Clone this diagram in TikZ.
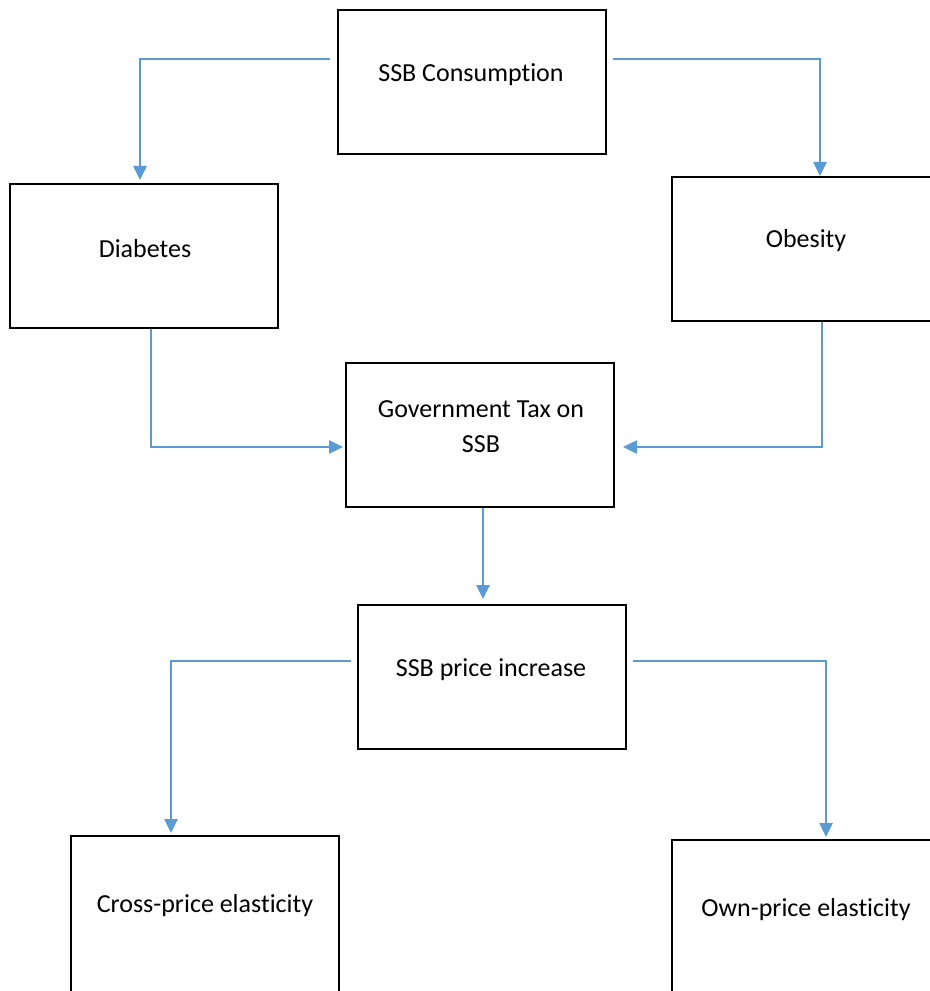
\documentclass[tikz,border=0pt]{standalone}
\usepackage{fontspec}
\setmainfont[Ligatures=NoCommon]{Carlito}
\usetikzlibrary{arrows.meta}
\definecolor{linkblue}{HTML}{5B9BD5}

\begin{document}
\begin{tikzpicture}[x=0.75pt,y=-0.75pt,
    box/.style={draw,line width=1.5pt,minimum width=201pt,minimum height=108pt,inner sep=0pt},
    txt/.style={font=\fontsize{19.5}{26.25}\selectfont,align=center},
    link/.style={draw=linkblue,line width=1.1pt,-{Triangle[length=10.5pt,width=10pt]}}]
      \useasboundingbox (0,0) rectangle (930,991);
      % boxes
      \node[box] (cons) at (471.5,82) {};
      \node[box] (diab) at (144,256) {};
      \node[box] (obes) at (806,249) {};
      \node[box] (gov) at (480,435) {};
      \node[box] (price) at (491.5,677) {};
      \node[box,minimum height=120pt] (cross) at (204.5,916) {};
      \node[box,minimum height=120pt] (own) at (806,920) {};
      % texts
      \node[txt] (cons-t) at (471,75) {SSB Consumption};
      \node[txt] (diab-t) at (145,249) {Diabetes};
      \node[txt] (obes-t) at (806,241) {Obesity};
      \node[txt] (gov-t) at (481,427) {Government Tax on\\SSB};
      \node[txt] (price-t) at (491,670) {SSB price increase};
      \node[txt] (cross-t) at (205,906) {Cross-price elasticity};
      \node[txt] (own-t) at (806,910) {Own-price elasticity};
      % connectors
      \draw[link] ([shift={(-7,50)}]cons.north west) -| ([shift={(-4,-3)}]diab.north);
      \draw[link] ([shift={(6,50)}]cons.north east) -| ([shift={(14,0)}]obes.north);
      \draw[link] ([shift={(7,0)}]diab.south) |- ([shift={(-2,12)}]gov.west);
      \draw[link] ([shift={(16,0)}]obes.south) |- ([shift={(8,12)}]gov.east);
      \draw[link] ([shift={(3,0)}]gov.south) -- ([shift={(-8.5,-5)}]price.north);
      \draw[link] ([shift={(-6,57)}]price.north west) -| ([shift={(-33.5,-2)}]cross.north);
      \draw[link] ([shift={(6,57)}]price.north east) -| ([shift={(20,-2)}]own.north);
    \end{tikzpicture}
\end{document}
